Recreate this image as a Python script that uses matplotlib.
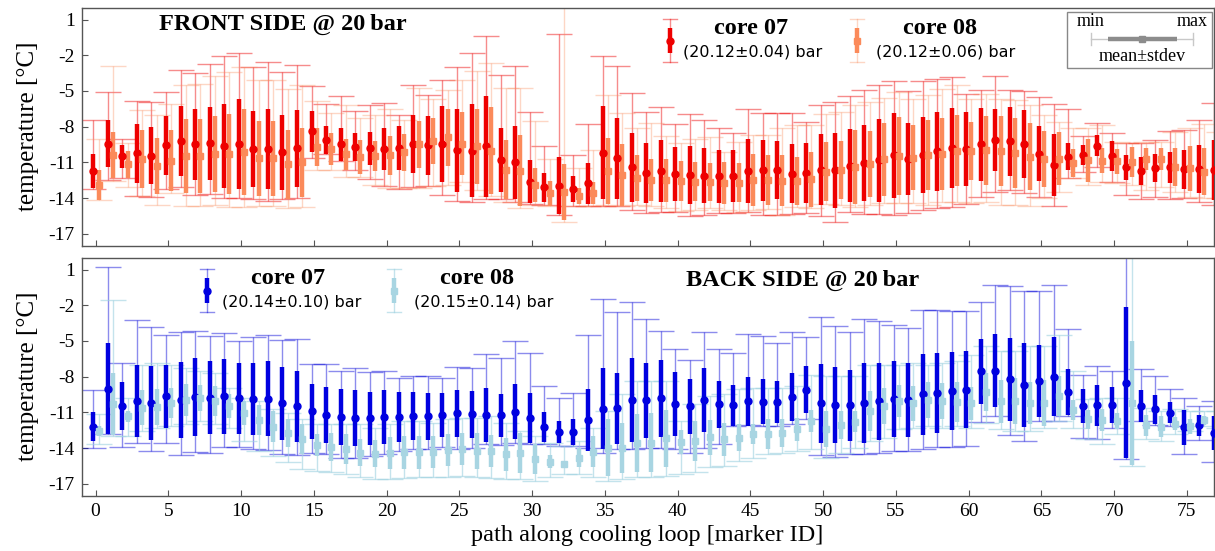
import numpy as np
import matplotlib.pyplot as plt
from matplotlib.patches import Rectangle

plt.rcParams['font.family'] = ['Liberation Serif', 'DejaVu Serif']
plt.rcParams['axes.unicode_minus'] = False

# marker IDs along the cooling loop
marker_id = np.arange(78)

# ---- FRONT SIDE, core 07 ----
mean_f07 = [-11.7, -9.44, -10.5, -10.25, -10.44, -9.58, -9.19, -9.49, -9.41, -9.63, -9.47, -9.88, -9.86, -10.14, -9.83, -8.4, -9.13, -9.47, -9.69, -9.83,
            -9.88, -9.83, -9.49, -9.58, -9.49, -10.0, -10.02, -9.66, -10.83, -11.0, -12.62, -13.09, -12.95, -13.23, -12.76, -10.19, -10.67, -11.39, -11.9, -11.75,
            -12.0, -12.09, -12.12, -12.17, -12.17, -11.73, -11.67, -11.67, -11.95, -11.9, -11.62, -11.67, -11.28, -11.08, -10.83, -10.41, -10.72, -10.36, -10.08, -9.83,
            -9.88, -9.49, -9.13, -9.21, -9.47, -10.28, -11.25, -10.53, -10.41, -9.6, -10.47, -11.39, -11.7, -11.48, -11.42, -11.59, -11.56, -11.64]
std_f07 = [1.42, 1.98, 0.95, 2.5, 2.4, 2.46, 2.93, 3.0, 3.1, 3.5, 3.77, 3.2, 3.35, 3.16, 3.2, 1.7, 1.18, 1.38, 1.18, 1.42,
           1.74, 1.85, 2.44, 2.5, 3.2, 3.46, 3.9, 4.25, 2.68, 3.07, 1.79, 1.23, 2.41, 1.1, 1.73, 3.9, 3.38, 2.9, 2.55, 2.6,
           2.26, 2.44, 2.32, 2.23, 2.2, 2.72, 2.54, 2.43, 2.48, 2.54, 2.99, 3.13, 3.08, 3.2, 3.46, 3.6, 3.0, 3.2, 3.35, 3.36,
           3.1, 3.1, 2.62, 2.9, 2.86, 2.3, 2.6, 1.12, 0.84, 0.9, 1.26, 1.05, 1.19, 1.19, 1.33, 1.67, 2.05, 2.48]
min_f07 = [-13.2, -12.48, -12.3, -13.85, -13.9, -13.26, -13.1, -13.76, -13.68, -14.0, -13.96, -14.1, -14.24, -14.1, -13.96, -10.67, -10.33, -10.9, -11.67, -12.4,
           -13.0, -13.2, -13.04, -13.0, -13.76, -14.24, -14.35, -14.07, -14.07, -14.3, -14.46, -14.57, -15.4, -14.63, -14.68, -14.66, -14.68, -15.0, -15.24, -15.16,
           -15.13, -15.47, -15.41, -15.27, -15.27, -15.19, -15.41, -15.41, -15.3, -15.27, -15.47, -16.0, -15.13, -15.35, -15.35, -15.41, -15.27, -15.0, -14.85, -14.71,
           -14.52, -13.88, -13.52, -13.3, -13.6, -13.88, -14.63, -12.34, -11.78, -11.36, -12.62, -13.74, -14.1, -13.88, -14.07, -14.0, -14.29, -14.57]
max_f07 = [-7.4, -5.06, -9.05, -5.87, -5.92, -5.11, -3.24, -3.49, -2.71, -2.1, -1.79, -2.99, -2.54, -3.44, -2.82, -4.55, -6.06, -5.42, -6.7, -6.2,
           -6.03, -6.98, -4.5, -5.36, -4.1, -3.0, -1.85, -0.42, -3.63, -2.88, -6.76, -9.63, -0.2, -10.36, -7.74, -2.04, -2.88, -5.14, -6.79, -6.37,
           -7.74, -6.93, -7.4, -8.15, -8.49, -6.48, -6.87, -6.84, -6.87, -7.6, -6.14, -5.89, -5.42, -4.89, -4.53, -4.19, -4.97, -4.19, -4.02, -3.83,
           -5.22, -4.94, -3.74, -4.94, -5.03, -5.5, -6.06, -6.54, -8.77, -7.65, -8.49, -9.33, -9.33, -9.1, -8.38, -8.32, -7.46, -5.98]

# ---- FRONT SIDE, core 08 ----
mean_f08 = [-12.9, -10.39, -11.17, -10.72, -11.3, -10.86, -10.47, -10.44, -10.28, -10.28, -10.14, -10.67, -10.64, -11.14, -10.97, -9.69, -9.88, -10.3, -10.55, -10.47,
            -10.41, -10.16, -9.49, -9.21, -8.9, -9.44, -9.66, -10.02, -11.6, -11.7, -12.9, -13.6, -13.5, -13.8, -13.57, -11.7, -12.06, -12.28, -12.45, -12.5,
            -12.56, -12.62, -12.68, -12.7, -12.7, -12.45, -12.48, -12.54, -12.54, -12.42, -11.78, -11.67, -11.39, -11.14, -10.72, -10.44, -10.61, -10.39, -10.3, -10.02,
            -10.02, -10.0, -10.02, -10.19, -10.53, -10.72, -10.69, -11.08, -10.83, -10.86, -10.89, -10.94, -10.72, -10.72, -11.36, -11.5, -11.78, -11.64]
std_f08 = [1.26, 1.93, 1.12, 2.4, 2.34, 2.58, 3.1, 3.1, 3.2, 3.35, 3.6, 3.15, 3.15, 2.9, 2.9, 1.6, 1.33, 1.3, 1.4, 1.23,
           1.63, 1.56, 2.0, 1.94, 2.37, 2.64, 3.13, 3.65, 2.48, 2.96, 1.4, 1.03, 2.37, 0.67, 0.93, 2.78, 2.57, 1.93, 1.77, 1.8,
           1.65, 1.65, 1.6, 1.77, 1.63, 2.19, 2.1, 2.13, 2.03, 2.3, 2.5, 2.44, 3.07, 2.78, 3.07, 3.28, 2.72, 2.93, 3.0, 3.0,
           2.44, 2.86, 2.93, 2.93, 2.8, 2.37, 2.23, 1.19, 1.81, 1.05, 1.05, 1.26, 0.9, 0.9, 1.6, 1.88, 1.95, 1.8]
min_f08 = [-14.16, -12.56, -13.1, -13.8, -14.6, -13.54, -14.7, -14.66, -14.57, -14.77, -14.77, -14.7, -14.7, -14.8, -14.77, -11.6, -11.64, -12.2, -12.25, -12.9,
           -13.18, -13.15, -13.15, -13.0, -12.9, -12.62, -13.3, -13.82, -14.3, -14.8, -14.57, -14.7, -16.0, -14.63, -14.66, -14.57, -14.7, -14.57, -14.63, -14.8,
           -15.07, -15.0, -14.85, -15.0, -15.13, -15.0, -14.9, -15.41, -14.71, -14.85, -14.52, -14.57, -14.71, -14.57, -14.43, -14.43, -14.43, -14.57, -14.29, -14.29,
           -14.43, -14.29, -14.57, -14.57, -14.63, -14.0, -13.46, -12.34, -12.9, -12.62, -12.76, -12.9, -13.3, -13.04, -13.46, -13.88, -14.0, -14.0]
max_f08 = [-9.0, -2.94, -9.38, -6.56, -6.98, -6.1, -4.5, -4.39, -3.72, -3.38, -2.99, -4.08, -4.05, -4.83, -4.5, -5.84, -6.81, -6.2, -7.29, -7.0,
           -6.53, -7.4, -4.72, -5.64, -4.9, -4.1, -3.35, -2.63, -4.72, -4.75, -7.54, -10.69, 2.5, -11.5, -10.0, -5.36, -6.85, -8.07, -7.7, -8.77,
           -9.33, -9.0, -8.85, -10.1, -9.27, -8.66, -8.7, -8.15, -7.87, -7.87, -6.9, -6.76, -6.2, -5.92, -5.59, -5.08, -5.64, -5.36, -4.8, -4.53,
           -5.64, -5.22, -5.64, -5.78, -6.2, -7.04, -7.6, -8.15, -8.15, -7.87, -9.27, -9.41, -9.27, -9.27, -8.43, -8.15, -7.74, -8.43]

# ---- BACK SIDE, core 07 ----
mean_b07 = [-12.2, -9.0, -10.47, -10.08, -10.19, -9.66, -9.94, -9.72, -9.77, -9.66, -9.83, -9.88, -9.86, -10.25, -10.5, -10.92, -11.2, -11.39, -11.45, -11.5,
            -11.39, -11.39, -11.28, -11.34, -11.22, -11.08, -11.17, -11.22, -11.25, -10.94, -11.5, -12.26, -12.65, -12.62, -11.64, -10.69, -10.67, -9.97, -10.0, -9.83,
            -10.3, -10.5, -9.94, -10.33, -10.39, -10.08, -10.1, -10.14, -9.72, -9.08, -10.25, -10.39, -10.41, -10.19, -10.08, -9.86, -9.94, -9.49, -9.35, -9.24,
            -9.1, -7.54, -7.48, -8.21, -8.66, -8.35, -7.99, -9.3, -10.47, -10.41, -10.39, -8.49, -10.47, -10.75, -11.03, -12.26, -12.09, -12.73]
std_b07 = [1.23, 3.84, 2.05, 3.03, 3.13, 2.65, 3.2, 3.25, 3.07, 3.13, 2.99, 3.0, 3.15, 3.05, 2.97, 2.3, 2.37, 2.37, 2.37, 2.23,
           2.27, 2.07, 2.02, 1.95, 1.88, 2.0, 1.95, 2.23, 1.79, 2.3, 2.1, 1.26, 0.93, 1.1, 2.58, 3.4, 2.97, 3.56, 3.15, 3.2,
           2.72, 2.34, 2.69, 1.95, 1.73, 2.05, 1.88, 1.79, 2.0, 1.94, 3.3, 3.17, 2.97, 3.35, 3.24, 3.17, 3.13, 3.4, 3.35, 3.28,
           3.24, 2.74, 3.07, 3.49, 3.53, 3.01, 3.32, 1.95, 1.45, 1.7, 1.53, 6.38, 1.31, 1.19, 0.88, 1.44, 0.87, 1.4]
min_b07 = [-13.96, -12.84, -13.88, -13.57, -14.24, -13.54, -14.6, -14.29, -14.43, -13.9, -13.9, -14.1, -14.18, -14.46, -14.6, -14.38, -14.52, -14.85, -14.8, -14.66,
           -14.52, -14.24, -14.1, -14.1, -13.9, -14.04, -13.96, -13.68, -13.74, -13.54, -13.68, -13.68, -13.82, -13.82, -13.96, -14.38, -14.1, -14.1, -13.96, -13.96,
           -14.1, -14.38, -13.96, -13.62, -12.15, -12.06, -12.15, -12.15, -12.0, -11.59, -14.6, -14.74, -14.52, -14.52, -14.38, -14.24, -14.24, -14.1, -13.9, -13.9,
           -13.82, -11.81, -11.28, -12.93, -13.4, -11.73, -11.73, -11.31, -13.12, -13.2, -12.34, -14.9, -11.73, -12.06, -12.15, -14.46, -13.35, -15.13]
max_b07 = [-9.13, 1.2, -6.81, -3.27, -3.8, -4.47, -4.27, -4.19, -4.58, -4.36, -4.97, -4.64, -4.53, -4.94, -4.86, -6.9, -6.93, -7.54, -7.29, -7.62,
           -7.48, -8.1, -7.96, -7.96, -8.15, -7.15, -7.26, -6.09, -6.42, -5.03, -6.0, -8.77, -9.77, -9.35, -4.53, -1.48, -2.6, -1.73, -3.16, -4.19,
           -5.67, -6.62, -4.22, -5.7, -6.0, -4.41, -4.6, -5.2, -4.25, -4.64, -2.99, -3.72, -4.22, -3.16, -3.3, -3.63, -3.94, -2.43, -2.43, -2.52,
           -2.52, -1.76, -0.31, -0.42, -0.76, -0.81, -0.31, -4.0, -7.82, -7.12, -7.48, 2.5, -7.32, -7.96, -9.02, -9.77, -10.44, -10.05]

# ---- BACK SIDE, core 08 ----
mean_b08 = [-12.6, -10.3, -11.34, -10.61, -10.53, -10.22, -9.97, -9.8, -10.05, -10.47, -11.08, -11.6, -12.2, -12.76, -13.26, -13.74, -13.9, -14.1, -14.38, -14.46,
            -14.43, -14.35, -14.35, -14.32, -14.15, -14.1, -14.24, -14.27, -14.52, -14.43, -14.94, -15.13, -15.35, -14.8, -14.29, -13.96, -13.96, -13.54, -13.54, -13.18,
            -13.49, -13.4, -13.07, -13.26, -13.12, -12.84, -12.84, -12.76, -12.42, -11.73, -12.42, -12.06, -11.78, -10.89, -10.47, -10.05, -10.25, -9.97, -10.05, -10.14,
            -10.25, -9.27, -10.05, -10.05, -10.22, -10.19, -9.63, -10.83, -11.59, -11.64, -11.73, -10.19, -12.09, -12.2, -11.95, -12.15, -11.67, -11.7]
std_b08 = [0.42, 2.58, 0.49, 1.47, 1.52, 1.26, 1.33, 1.07, 1.26, 0.98, 1.0, 1.26, 1.33, 1.19, 1.26, 0.9, 1.19, 1.26, 1.12, 1.12,
           1.33, 1.4, 1.4, 1.33, 1.33, 1.33, 1.53, 1.33, 1.4, 1.67, 1.26, 0.56, 0.28, 0.77, 1.33, 2.37, 2.1, 2.44, 2.51, 2.37,
           0.98, 1.67, 1.47, 1.4, 1.12, 0.84, 1.26, 1.19, 0.98, 0.9, 1.53, 1.19, 0.9, 1.67, 1.53, 1.33, 1.47, 1.53, 1.53, 1.67,
           1.4, 1.6, 1.81, 1.95, 1.74, 1.95, 1.67, 0.84, 0.77, 0.9, 0.7, 5.2, 0.9, 0.9, 0.56, 0.63, 0.35, 0.55]
min_b08 = [-13.68, -12.98, -12.98, -12.56, -12.28, -12.15, -12.0, -11.73, -12.0, -12.28, -13.4, -14.24, -14.66, -15.2, -15.77, -15.9, -16.05, -16.2, -16.47, -16.6,
           -16.6, -16.52, -16.47, -16.47, -16.41, -16.33, -16.47, -16.52, -16.6, -16.6, -16.75, -16.47, -16.2, -16.2, -16.47, -16.75, -16.6, -16.47, -16.47, -16.33,
           -16.2, -16.05, -15.63, -15.5, -15.07, -14.8, -14.52, -14.38, -14.24, -14.1, -14.8, -14.38, -13.96, -13.4, -13.12, -12.42, -12.28, -12.15, -12.28, -12.15,
           -12.28, -11.87, -12.42, -12.56, -12.56, -12.28, -11.73, -12.28, -13.26, -13.68, -12.84, -15.49, -13.26, -13.4, -12.84, -12.56, -12.15, -12.28]
max_b08 = [-11.17, -1.54, -9.77, -6.98, -6.84, -6.98, -7.26, -7.54, -7.68, -8.94, -9.77, -10.05, -10.75, -11.03, -11.59, -12.0, -12.0, -12.0, -12.0, -12.29,
           -12.0, -11.73, -11.73, -11.87, -11.59, -11.45, -11.45, -11.3, -11.87, -12.6, -12.98, -13.54, -13.82, -13.4, -12.28, -10.89, -9.49, -8.38, -8.38, -8.38,
           -11.73, -10.33, -9.63, -9.49, -9.07, -8.94, -8.94, -8.94, -8.8, -7.82, -7.96, -7.96, -7.96, -6.98, -6.98, -6.98, -6.84, -6.98, -6.84, -6.7,
           -6.14, -5.45, -5.87, -5.87, -5.45, -5.45, -4.47, -7.54, -9.91, -9.77, -9.77, 2.5, -10.6, -10.89, -10.75, -10.89, -10.89, -10.89]

# mean pressures shown in the legends
press_f = ['(20.12\u00b10.04) bar', '(20.12\u00b10.06) bar']
press_b = ['(20.14\u00b10.10) bar', '(20.15\u00b10.14) bar']

# colours: (main, whisker)
RED = ('#ee0000', (0.93, 0.0, 0.0, 0.45))
ORANGE = ('#fb8a5a', (0.98, 0.54, 0.35, 0.35))
BLUE = ('#0000e0', (0.0, 0.0, 0.85, 0.45))
LBLUE = ('#a8d5e2', (0.62, 0.82, 0.88, 0.6))

GRAY = '#555555'


def draw_core(ax, x, mean, std, lo, hi, colors, marker):
    mean = np.asarray(mean)
    lo = np.asarray(lo)
    hi = np.asarray(hi)
    ax.errorbar(x, mean, yerr=[mean - lo, hi - mean], fmt='none', ecolor=colors[1],
                elinewidth=1.0, capsize=9.5, capthick=1.0, zorder=2)
    ax.errorbar(x, mean, yerr=std, fmt=marker, color=colors[0], ms=5,
                elinewidth=3.2, capsize=0, zorder=3)


def legend_glyph(ax, fx, fy, colors, marker):
    t = ax.transAxes
    h_thin, h_thick, cw = 0.09, 0.052, 0.0058
    ax.plot([fx, fx], [fy - h_thin, fy + h_thin], color=colors[1], lw=1, transform=t)
    for yy in (fy - h_thin, fy + h_thin):
        ax.plot([fx - cw, fx + cw], [yy, yy], color=colors[1], lw=1, transform=t)
    ax.plot([fx, fx], [fy - h_thick, fy + h_thick], color=colors[0], lw=3.2,
            solid_capstyle='butt', transform=t)
    ax.plot([fx], [fy], marker=marker, color=colors[0], ms=5, transform=t)


def style_axes(ax):
    ax.set_xlim(-0.96, 76.87)
    ax.set_ylim(-18, 2)
    ax.set_yticks([1, -2, -5, -8, -11, -14, -17])
    ax.set_xticks(np.arange(0, 76, 5))
    ax.tick_params(direction='in', length=4, color=GRAY, labelsize=14, pad=5)
    for s in ax.spines.values():
        s.set_color(GRAY)
        s.set_linewidth(1.0)
    ax.set_ylabel('temperature [\u00b0C]', fontsize=18, labelpad=7)


fig = plt.figure(figsize=(12.15, 5.51), dpi=100)
ax_f = fig.add_axes([0.0672, 0.5541, 0.932, 0.432])
ax_b = fig.add_axes([0.0672, 0.1004, 0.932, 0.4319])

x07 = marker_id - 0.16
x08 = marker_id + 0.2

draw_core(ax_f, x07, mean_f07, std_f07, min_f07, max_f07, RED, 'o')
draw_core(ax_f, x08, mean_f08, std_f08, min_f08, max_f08, ORANGE, 's')
draw_core(ax_b, x07, mean_b07, std_b07, min_b07, max_b07, BLUE, 'o')
draw_core(ax_b, x08, mean_b08, std_b08, min_b08, max_b08, LBLUE, 's')

style_axes(ax_f)
style_axes(ax_b)
ax_f.tick_params(labelbottom=False)
fig.text(0.533, 0.028, 'path along cooling loop [marker ID]', fontsize=17.5,
         ha='center', va='center')

# panel titles
ax_f.text(0.0683, 0.928, 'FRONT SIDE @ 20\u2009bar', transform=ax_f.transAxes,
          fontsize=17.5, fontweight='bold', va='center', ha='left')
ax_b.text(0.5337, 0.906, 'BACK SIDE @ 20\u2009bar', transform=ax_b.transAxes,
          fontsize=17.5, fontweight='bold', va='center', ha='left')

# custom legends
sans = ['DejaVu Sans']
for ax, fy, entries in [
        (ax_f, 0.862, [(0.5196, 0.591, 0.531, RED, 'o', 'core 07', press_f[0]),
                       (0.6847, 0.758, 0.7015, ORANGE, 's', 'core 08', press_f[1])]),
        (ax_b, 0.862, [(0.1107, 0.1822, 0.124, BLUE, 'o', 'core 07', press_b[0]),
                       (0.2758, 0.349, 0.2935, LBLUE, 's', 'core 08', press_b[1])])]:
    for gx, tx, px, cols, mk, name, pr in entries:
        legend_glyph(ax, gx, fy, cols, mk)
        ax.text(tx, fy + 0.052, name, transform=ax.transAxes, fontsize=17.5,
                fontweight='bold', ha='center', va='center')
        ax.text(px, fy - 0.05, pr, transform=ax.transAxes, fontsize=11.5,
                family=sans, ha='left', va='center')

# explanation box (top right)
t = ax_f.transAxes
ax_f.add_patch(Rectangle((0.8702, 0.7458), 0.1278, 0.2378, transform=t, fill=False,
                         edgecolor='#888888', lw=1.0, zorder=5))
ax_f.text(0.8914, 0.941, 'min', transform=t, fontsize=13, ha='center', va='center')
ax_f.text(0.9806, 0.941, 'max', transform=t, fontsize=13, ha='center', va='center')
ax_f.plot([0.891, 0.9816], [0.8672, 0.8672], color='#c8c8c8', lw=1, transform=t)
for xx in (0.891, 0.9816):
    ax_f.plot([xx, xx], [0.8672 - 0.025, 0.8672 + 0.025], color='#c8c8c8', lw=1, transform=t)
ax_f.plot([0.9064, 0.9673], [0.8672, 0.8672], color='#8c8c8c', lw=3.2,
          solid_capstyle='butt', transform=t)
ax_f.plot([0.9362], [0.8672], marker='s', color='#8c8c8c', ms=5, transform=t)
ax_f.text(0.9362, 0.794, 'mean\u00b1stdev', transform=t, fontsize=13, ha='center', va='center')

fig.savefig('out.png', dpi=100)
